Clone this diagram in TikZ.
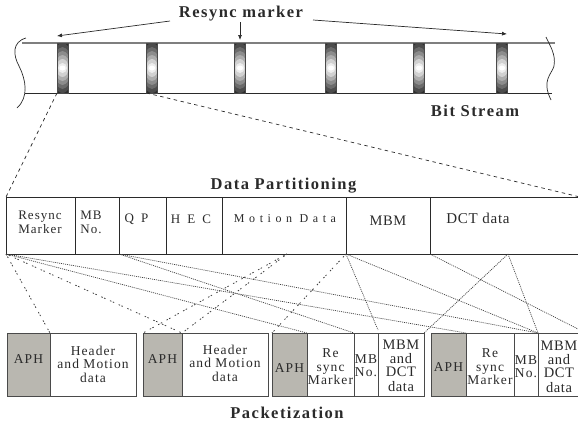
\documentclass[tikz,border=0pt]{standalone}
\usepackage{fontspec}
\setmainfont{Liberation Serif}
\usetikzlibrary{arrows.meta}
\definecolor{ink}{HTML}{2A2A2A}
\definecolor{aph}{HTML}{B9B7B0}
\newcommand{\cc}[3][0]{\makebox[0pt]{\hspace*{\dimexpr 2\dimexpr #1pt\relax\relax}\smash{\raisebox{\dimexpr #2pt-2.5pt\relax}{\begin{tabular}[c]{@{}c@{}}#3\end{tabular}}}}}
\newcommand{\cl}[3][0]{\makebox[0pt]{\hspace*{\dimexpr 2\dimexpr #1pt\relax\relax}\smash{\raisebox{\dimexpr #2pt-2.5pt\relax}{\begin{tabular}[c]{@{}l@{}}#3\end{tabular}}}}}
\newcommand{\spc}[1]{\addfontfeatures{LetterSpace=#1}}
\newcommand{\wide}{\fontsize{14.5}{14}\selectfont\addfontfeatures{LetterSpace=4}}
\tikzset{
  bstr/.style={font=\fontsize{16.5}{18}\selectfont\bfseries\addfontfeatures{LetterSpace=9}, text=ink, inner sep=0pt},
  cellbox/.style={draw=ink, line width=0.8pt, anchor=north west, inner sep=0pt, outer sep=0pt, minimum height=57pt,
    text=ink, font=\fontsize{13}{14}\selectfont\addfontfeatures{LetterSpace=8}},
  pbox/.style={draw=ink!85, line width=1pt, anchor=north west, inner sep=0pt, outer sep=0pt, minimum height=63pt,
    fill=white, text=ink, font=\fontsize{13.5}{13.5}\selectfont\addfontfeatures{LetterSpace=8}},
  abox/.style={pbox, fill=aph},
  marker/.style={draw=ink!85, fill=black!85, line width=1pt, minimum width=11pt, minimum height=50pt, inner sep=0pt, outer sep=0pt,
    path picture={
      \foreach \yr/\xr/\g in {29/13/18,25/11/30,21/9.5/42,17/8.5/55,13/7.5/68,9/6/82,5/4.5/93,2.5/3/100}
        \fill[white!\g!black] (path picture bounding box.center) ellipse [x radius=\xr pt, y radius=\yr pt];
    }},
  rail/.style={line width=1pt},
  wavy/.style={draw=ink, line width=0.7pt},
  arw/.style={draw=ink, line width=0.7pt, -{Latex[length=5pt,width=4pt]}},
  dashl/.style={draw=ink, line width=0.7pt, dash pattern=on 3.5pt off 3.5pt},
  dashm/.style={draw=ink!90, line width=0.8pt, dash pattern=on 1.5pt off 1.5pt on 1.5pt off 5pt},
  dotl/.style={draw=ink!90, line width=0.7pt, dash pattern=on 1pt off 1pt},
}
\begin{document}
\begin{tikzpicture}[x=1pt,y=-1pt]
\useasboundingbox (0,0) rectangle (578,424);
% bit stream
\coordinate (tl) at (22,43); \coordinate (tr) at (555,43);
\coordinate (bl) at (25,93); \coordinate (br) at (552,93);
\draw[rail, draw=ink!60, line width=1.2pt] (tl) -- (tr);
\draw[rail, draw=ink] (bl) -- (br);
\draw[wavy] (26,38) .. controls (12,42) and (13,55) .. (19,66) .. controls (26,80) and (29,97) .. (17,108);
\draw[wavy] (546,37) .. controls (550,46) and (556,54) .. (554,66) .. controls (552,74) and (541,80) .. (551,100);
\foreach \n/\cx in {m1/62.5,m2/152,m3/240,m4/331,m5/419,m6/502}
  \node[marker] (\n) at (\cx,68) {};
% labels
\node[bstr] (rm) at (241,14) {Resync marker};
\node[bstr] (bs) at (475,110.5) {Bit Stream};
\node[bstr] (dp) at (283.5,186) {Data Partitioning};
\node[bstr] (pk) at (287,412.5) {Packetization};
\coordinate (ra) at (170,21); \coordinate (ra2) at (57,36);
\coordinate (rb) at (313,20); \coordinate (rb2) at (507,34);
\coordinate (rc) at (240,22);
\draw[arw] (ra) -- (ra2);
\draw[arw] (rb) -- (rb2);
\draw[arw] (rc) -- ([yshift=3pt]m3.north);
% data partitioning
\node[cellbox, minimum width=69pt] (r) at (6,197) {\cc[-0.5]{1.5}{Resync\\Marker}};
\node[cellbox, minimum width=44pt] (mb) at (75,197) {\cl[-6]{1.5}{MB\\No.}};
\node[cellbox, minimum width=47pt] (qp) at (119,197) {\cc[-6]{5}{\spc{30}Q P}};
\node[cellbox, minimum width=56pt] (hec) at (166,197) {\cc[-3]{4.5}{\spc{30}H E C}};
\node[cellbox, minimum width=124pt] (mot) at (222,197) {\cc[1]{5}{\fontsize{12}{14}\selectfont\spc{38}Motion Data}};
\node[cellbox, minimum width=84pt] (mbm) at (346,197) {\cc{2.5}{\wide MBM}};
\node[cellbox, minimum width=150pt] (dct) at (430,197) {\cl[-27]{5}{\fontsize{15}{14}\selectfont\spc{5}DCT data}};
% packets
\node[abox, minimum width=43pt] (p1a) at (7,333) {\cc{2.5}{APH}};
\node[pbox, minimum width=86pt] (p1d) at (50,333) {\cc{-2.5}{Header\\and Motion\\data}};
\node[abox, minimum width=39pt] (p2a) at (143,333) {\cc{3}{APH}};
\node[pbox, minimum width=86pt] (p2d) at (182,333) {\cc{-1.5}{Header\\and Motion\\data}};
\node[abox, minimum width=35pt] (p3a) at (272,333) {\cc{-6}{APH}};
\node[pbox, minimum width=47pt] (p3r) at (307,333) {\cc{-5}{Re\\sync\\Marker}};
\node[pbox, minimum width=24pt] (p3m) at (354,333) {\cc{-4}{MB\\No.}};
\node[pbox, minimum width=46pt] (p3d) at (378,333) {\cc{-4}{\wide MBM\\\wide and\\\wide DCT\\\wide data}};
\node[abox, minimum width=35pt] (p4a) at (431,333) {\cc{-5}{APH}};
\node[pbox, minimum width=48pt] (p4r) at (466,333) {\cc{-5}{Re\\sync\\Marker}};
\node[pbox, minimum width=24pt] (p4m) at (514,333) {\cc{-5}{MB\\No.}};
\node[pbox, minimum width=42pt] (p4d) at (538,333) {\cc{-5}{\wide MBM\\\wide and\\\wide DCT\\\wide data}};
% connectors from the stream
\draw[dashl] (m1.south west) -- (r.north west);
\draw[dashl] (m2.south west) -- (dct.north east);
% connectors
\draw[dashm] (r.south west) -- (p1a.north east);
\draw[dashm] (r.south west) -- (p2a.north east);
\draw[dotl] (r.south west) -- (p3r.north west);
\draw[dotl] (r.south west) -- (p4a.north east);
\draw[dotl] (qp.south west) -- (p3r.north east);
\draw[dotl] (qp.south west) -- (p4m.north east);
\coordinate (mq) at (287,254);
\coordinate (dq) at (508,254);
\draw[dashm] (mq) -- (p2a.north west);
\draw[dashm] (mq) -- (p2a.north east);
\draw[dashm] (mbm.south west) -- (p3a.north west);
\draw[dotl] (mbm.south west) -- ([yshift=3pt]p3m.north east);
\draw[dotl] (mbm.south west) -- (p4m.north east);
\draw[dotl] (dct.south west) -- ([yshift=3pt]p4d.north east);
\draw[dotl] (dq) -- (p3d.north east);
\draw[dotl] (dq) -- (p4m.north east);
\end{tikzpicture}
\end{document}
